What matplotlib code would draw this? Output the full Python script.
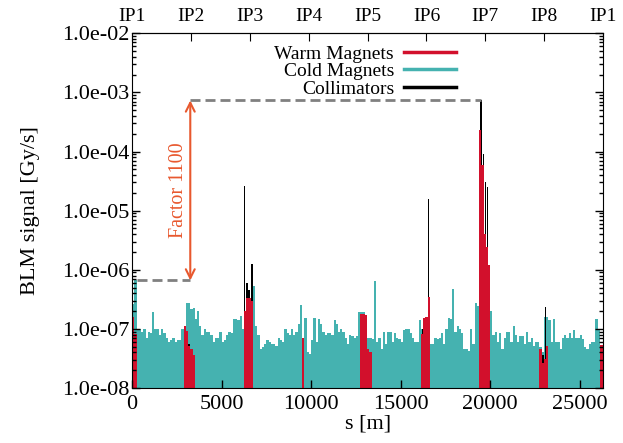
import numpy as np
import matplotlib
matplotlib.use('Agg')
import matplotlib.pyplot as plt
from matplotlib.lines import Line2D
from matplotlib.ticker import FuncFormatter, LogLocator, NullFormatter

plt.rcParams['font.family'] = 'serif'
plt.rcParams['font.serif'] = ['Liberation Serif', 'DejaVu Serif']

#%% data ------------------------------------------------------------------
ring = 26300.0   # s range shown [m]
bin_w = 125.0    # width of one cold-magnet bin [m]

# cold magnets, one value per bin, units of 1e-7 Gy/s
cold = np.array([
    2.6, 6.6, 1.0, 1.0, 0.9, 1.0, 0.7, 0.9, 0.85, 1.9,
    1.0, 1.0, 0.8, 1.0, 0.85, 0.7, 0.6, 0.65, 0.7, 0.6,
    0.65, 0.65, 1.0, 1.1, 2.7, 2.7, 2.2, 2.3, 1.5, 2.0,
    1.1, 0.8, 1.0, 0.9, 0.9, 0.8, 0.6, 0.7, 0.7, 0.9,
    0.6, 0.65, 0.8, 0.9, 0.85, 1.5, 1.5, 1.4, 1.66, 1.0,
    1.0, 1.0, 1.0, 1.0, 5.4, 1.1, 0.8, 0.45, 0.5, 0.55,
    0.65, 0.6, 0.55, 0.55, 0.52, 0.7, 0.65, 0.6, 1.0, 0.85,
    0.8, 1.0, 0.8, 0.9, 1.2, 2.5, 0.7, 1.55, 0.4, 0.37,
    0.65, 1.55, 0.6, 1.5, 1.2, 0.9, 0.8, 0.85, 0.85, 0.8,
    1.4, 1.2, 0.9, 1.0, 0.9, 0.7, 0.55, 0.8, 0.75, 0.7,
    0.75, 1.9, 1.9, 1.9, 1.6, 0.7, 0.7, 0.68, 6.5, 0.6,
    0.7, 0.45, 0.9, 0.55, 0.9, 0.9, 0.6, 0.85, 0.7, 0.68,
    0.6, 0.95, 1.0, 1.0, 0.85, 0.7, 0.6, 0.6, 1.4, 1.0,
    1.5, 1.5, 1.5, 0.55, 0.55, 0.7, 0.68, 0.7, 0.85, 0.55,
    1.0, 1.55, 1.5, 4.8, 0.9, 1.1, 1.0, 0.85, 0.45, 0.45,
    0.42, 1.0, 0.55, 2.7, 2.4, 2.1, 2.0, 2.0, 2.0, 2.0,
    2.0, 0.8, 0.9, 0.6, 0.85, 0.45, 0.7, 0.9, 0.9, 0.6,
    1.1, 0.8, 0.6, 0.75, 0.75, 0.55, 0.9, 0.6, 0.7, 0.52,
    0.6, 0.6, 0.5, 0.4, 1.6, 1.6, 1.4, 0.6, 1.5, 0.6,
    0.6, 0.45, 0.7, 0.8, 0.7, 0.85, 0.7, 0.95, 0.7, 0.7,
    0.8, 0.68, 0.5, 0.45, 0.55, 0.6, 0.6, 1.5, 1.0, 0.5,
    0.5]) * 1e-7

# warm magnets: bin index and value (1e-7 Gy/s)
warm_bin = [0, 1, 23, 24, 25, 26, 27, 50, 51, 52, 53, 76,
            102, 103, 104, 105, 106, 129, 130, 131, 132,
            155, 156, 157, 158, 159, 182, 183, 184, 185, 209, 210]
warm_val = np.array([1.6, 0.8, 1.1, 0.9, 0.5, 0.45, 0.35, 2.0, 3.3, 3.3, 3.0, 0.68,
                     1.8, 1.8, 1.7, 0.45, 0.4, 0.8, 1.5, 1.6, 3.5,
                     2300, 600, 40, 24, 12, 0.45, 0.26, 0.3, 0.5, 0.52, 0.52]) * 1e-7

# collimators: position [m] and value [Gy/s]
coll_s = [3180, 6290, 6420, 6540, 6700, 16240, 16540,
          19480, 19620, 19740, 19860, 22950, 23100, 26150]
coll_val = [5.5e-8, 2.6e-5, 6.0e-7, 4.5e-7, 1.25e-6, 1.0e-7, 1.6e-5,
            7.3e-4, 9.0e-5, 3.0e-5, 2.5e-5, 3.5e-8, 2.3e-7, 4.2e-8]

ip_labels = ['IP1', 'IP2', 'IP3', 'IP4', 'IP5', 'IP6', 'IP7', 'IP8', 'IP1']
low_level = 6.6e-7
peak_level = 7.3e-4
low_start = 250
arrow_s = 3250
peak_s = 19480

teal = '#45b2b0'
red = '#d2102c'
orange = '#e8582e'

#%% plot ------------------------------------------------------------------
fig = plt.figure(figsize=(6.23, 4.43), dpi=100)
ax = fig.add_axes([0.212, 0.124, 0.756, 0.801])

edges = np.arange(len(cold) + 1) * bin_w
ax.stairs(cold, edges, fill=True, baseline=1e-9, color=teal)
ax.bar(coll_s, coll_val, width=80, bottom=1e-9, color='k', align='center')
ax.bar(np.array(warm_bin) * bin_w, warm_val, width=bin_w, bottom=1e-9,
       align='edge', color=red)

# factor annotation
ax.plot([low_start, arrow_s], [low_level, low_level], color='#808080',
        lw=2, dashes=(3.6, 1.8))
ax.plot([arrow_s, peak_s], [peak_level, peak_level], color='#808080',
        lw=2, dashes=(3.6, 1.8))
ax.annotate('', xy=(arrow_s, peak_level), xytext=(arrow_s, low_level),
            arrowprops=dict(arrowstyle='<->', color=orange, lw=1.5,
                            shrinkA=0, shrinkB=0, mutation_scale=16))
ax.text(2600, np.sqrt(low_level * peak_level), 'Factor 1100', rotation=90,
        ha='center', va='center', color=orange, fontsize=14.5)

ax.set_yscale('log')
ax.set_ylim(1e-8, 1e-2)
ax.set_xlim(0, ring)
ax.set_xticks([0, 5000, 10000, 15000, 20000, 25000])
ax.yaxis.set_major_locator(LogLocator(base=10, numticks=10))
ax.yaxis.set_minor_locator(LogLocator(base=10, subs=np.arange(2, 10), numticks=10))
ax.yaxis.set_minor_formatter(NullFormatter())
ax.yaxis.set_major_formatter(FuncFormatter(lambda v, p: '{:.1e}'.format(v)))
ax.tick_params(which='both', direction='in', right=True, top=False,
               labelsize=16, width=1)
ax.tick_params(which='major', length=6)
ax.tick_params(which='minor', length=3)
ax.tick_params(axis='y', pad=2)
ax.tick_params(axis='x', pad=5)

sec = ax.secondary_xaxis('top')
sec.set_xticks(np.arange(len(ip_labels)) * ring / 8, labels=ip_labels)
sec.tick_params(direction='in', length=6, labelsize=14, pad=6)

ax.set_xlabel('s [m]', fontsize=16, labelpad=0)
ax.set_ylabel('BLM signal [Gy/s]', fontsize=16, labelpad=16)

handles = [Line2D([], [], color=red, lw=2.5),
           Line2D([], [], color=teal, lw=2.5),
           Line2D([], [], color='k', lw=2.5)]
ax.legend(handles, ['Warm Magnets', 'Cold Magnets', 'Collimators'],
          loc='upper right', bbox_to_anchor=(0.713, 1.0), frameon=False,
          markerfirst=False, fontsize=14, handlelength=2.7,
          labelspacing=0.0, handletextpad=0.5, borderaxespad=0.2)

fig.savefig('out.png', dpi=100)
